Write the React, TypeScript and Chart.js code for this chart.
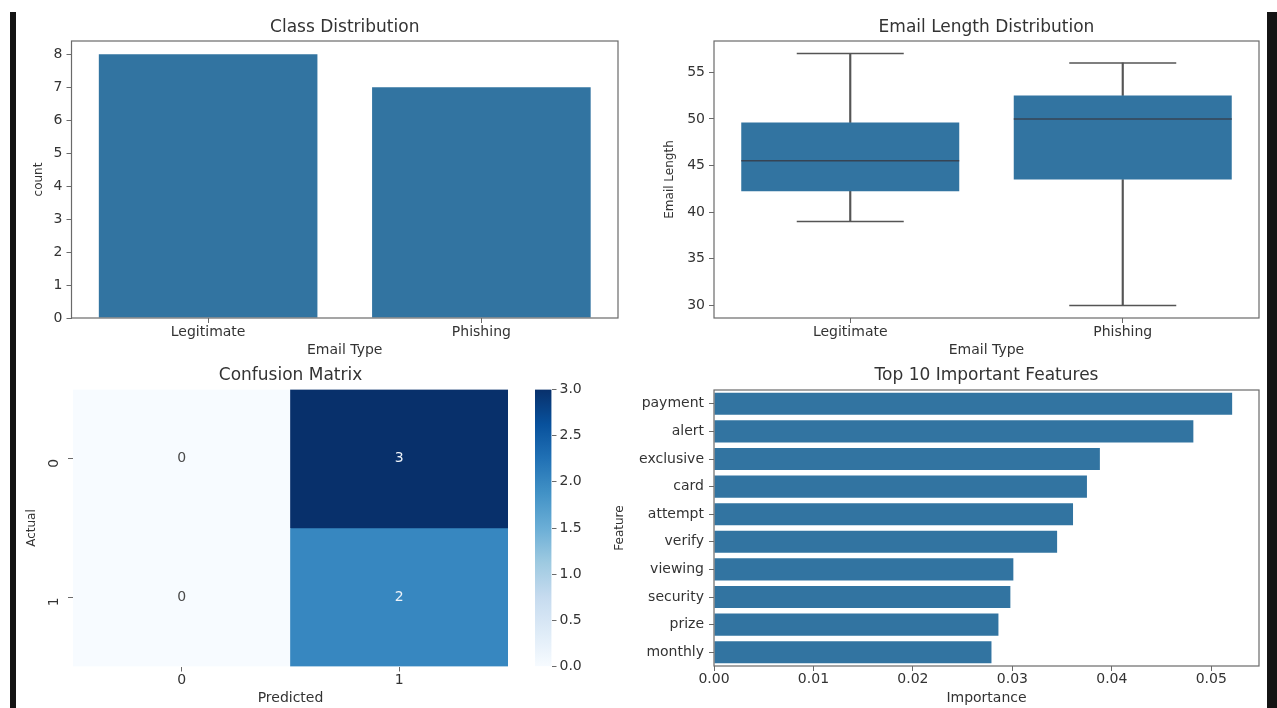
import React, { useEffect, useRef } from 'react';
import { Chart, registerables } from 'chart.js';

Chart.register(...registerables);

// ---------------- data ----------------
const classCategories = ['Legitimate', 'Phishing'];
const classCounts = [8, 7];
const countTicks = [0, 1, 2, 3, 4, 5, 6, 7, 8];

const lengthCategories = ['Legitimate', 'Phishing'];
const lengthMin = [39, 30];
const lengthQ1 = [42.25, 43.5];
const lengthMedian = [45.5, 50];
const lengthQ3 = [49.6, 52.5];
const lengthMax = [57, 56];
const lengthTicks = [30, 35, 40, 45, 50, 55];

const predictedLabels = ['0', '1'];
const actualLabels = ['0', '1'];
const confusionRow0 = [0, 3];
const confusionRow1 = [0, 2];
const colorbarTicks = [0, 0.5, 1, 1.5, 2, 2.5, 3];

const featureNames = ['payment', 'alert', 'exclusive', 'card', 'attempt', 'verify', 'viewing', 'security', 'prize', 'monthly'];
const featureImportance = [0.0521, 0.0482, 0.0388, 0.0375, 0.0361, 0.0345, 0.0301, 0.0298, 0.0286, 0.0279];
const importanceTicks = [0, 0.01, 0.02, 0.03, 0.04, 0.05];

// ---------------- styles ----------------
const FONT_FAMILY = '"DejaVu Sans", "Liberation Sans", sans-serif';
const TEXT_COLOR = '#333333';
const SPINE_COLOR = '#6a6a6a';
const BAR_COLOR = '#3274a1';
const WHISKER_COLOR = '#555555';
const MEDIAN_COLOR = 'rgba(55,60,70,0.85)';

const tickFont = { family: FONT_FAMILY, size: 14 };
const labelFont = { family: FONT_FAMILY, size: 14 };
const yLabelFont = { family: FONT_FAMILY, size: 12 };
const TITLE_SIZE = 17;

const BLUES = ['#f7fbff', '#deebf7', '#c6dbef', '#9ecae1', '#6baed6', '#4292c6', '#2171b5', '#08519c', '#08306b'];

function hexToRgb(h: string) {
  const n = parseInt(h.slice(1), 16);
  return [(n >> 16) & 255, (n >> 8) & 255, n & 255];
}
function bluesColor(t: number) {
  const tt = Math.max(0, Math.min(1, t));
  const pos = tt * (BLUES.length - 1);
  const i = Math.min(Math.floor(pos), BLUES.length - 2);
  const f = pos - i;
  const a = hexToRgb(BLUES[i]);
  const b = hexToRgb(BLUES[i + 1]);
  const c = a.map((v, k) => Math.round(v + (b[k] - v) * f));
  return `rgb(${c[0]},${c[1]},${c[2]})`;
}

function tickGrid() {
  return {
    display: true,
    drawOnChartArea: false,
    drawTicks: true,
    tickLength: 5,
    lineWidth: 1,
    color: SPINE_COLOR,
    offset: false,
  };
}

function makeFrame(id: string) {
  return {
    id,
    afterDatasetsDraw(chart: any) {
      const { ctx, chartArea } = chart;
      ctx.save();
      ctx.strokeStyle = SPINE_COLOR;
      ctx.lineWidth = 1.2;
      ctx.strokeRect(chartArea.left, chartArea.top, chartArea.right - chartArea.left, chartArea.bottom - chartArea.top);
      ctx.restore();
    },
  };
}

// Axes title centred over the plotting area (like matplotlib's ax.set_title)
function makeAxTitle(id: string, text: string, gap: number) {
  return {
    id,
    afterDraw(chart: any) {
      const { ctx, chartArea } = chart;
      ctx.save();
      ctx.font = `${TITLE_SIZE}px ${FONT_FAMILY}`;
      ctx.fillStyle = TEXT_COLOR;
      ctx.textAlign = 'center';
      ctx.textBaseline = 'middle';
      ctx.fillText(text, (chartArea.left + chartArea.right) / 2, chartArea.top - gap);
      ctx.restore();
    },
  };
}

const baseOptions = {
  responsive: false,
  maintainAspectRatio: false,
  animation: false as const,
  events: [] as any[],
};

const noPlugins = {
  legend: { display: false },
  tooltip: { enabled: false },
  title: { display: false },
};

export default function App() {
  const c1 = useRef<HTMLCanvasElement>(null);
  const c2 = useRef<HTMLCanvasElement>(null);
  const c3 = useRef<HTMLCanvasElement>(null);
  const c3b = useRef<HTMLCanvasElement>(null);
  const c4 = useRef<HTMLCanvasElement>(null);

  useEffect(() => {
    const charts: any[] = [];

    // ---------- Class Distribution ----------
    charts.push(
      new Chart(c1.current as any, {
        type: 'bar',
        data: {
          labels: classCategories,
          datasets: [
            {
              data: classCounts,
              backgroundColor: BAR_COLOR,
              barPercentage: 0.8,
              categoryPercentage: 1,
              borderWidth: 0,
            },
          ],
        },
        options: {
          ...baseOptions,
          layout: { autoPadding: false, padding: { left: 0, right: 56, top: 29, bottom: 0 } },
          plugins: noPlugins,
          scales: {
            x: {
              grid: tickGrid(),
              border: { display: false },
              ticks: { font: tickFont, color: TEXT_COLOR, padding: 1 },
              title: { display: true, text: 'Email Type', font: labelFont, color: TEXT_COLOR, padding: { top: 0, bottom: 3.6 } },
              afterFit: (s: any) => { s.height = 44; },
            },
            y: {
              min: 0,
              max: 8.4,
              afterBuildTicks: (s: any) => { s.ticks = countTicks.map((v) => ({ value: v })); },
              grid: tickGrid(),
              border: { display: false },
              ticks: { font: tickFont, color: TEXT_COLOR, padding: 4, callback: (v: any) => String(v) },
              title: { display: true, text: 'count', font: yLabelFont, color: TEXT_COLOR, padding: { top: 15.8, bottom: 0 } },
              afterFit: (s: any) => { s.width = 55.5; },
            },
          },
        } as any,
        plugins: [makeFrame('frame1'), makeAxTitle('title1', 'Class Distribution', 13.3)],
      })
    );

    // ---------- Email Length Distribution (box plot) ----------
    charts.push(
      new Chart(c2.current as any, {
        type: 'bar',
        data: {
          labels: lengthCategories,
          datasets: [
            {
              type: 'line',
              data: lengthMedian,
              showLine: false,
              pointStyle: 'line',
              pointRadius: 109,
              pointBorderWidth: 1.5,
              pointBorderColor: MEDIAN_COLOR,
              borderColor: MEDIAN_COLOR,
              clip: false,
            },
            {
              type: 'line',
              data: lengthMin,
              showLine: false,
              pointStyle: 'line',
              pointRadius: 53.5,
              pointBorderWidth: 1.5,
              pointBorderColor: WHISKER_COLOR,
              borderColor: WHISKER_COLOR,
              clip: false,
            },
            {
              type: 'line',
              data: lengthMax,
              showLine: false,
              pointStyle: 'line',
              pointRadius: 53.5,
              pointBorderWidth: 1.5,
              pointBorderColor: WHISKER_COLOR,
              borderColor: WHISKER_COLOR,
              clip: false,
            },
            {
              type: 'bar',
              data: lengthQ1.map((q, i) => [q, lengthQ3[i]]),
              backgroundColor: BAR_COLOR,
              barPercentage: 0.8,
              categoryPercentage: 1,
              grouped: false,
              borderWidth: 0,
            },
            {
              type: 'bar',
              data: lengthMin.map((m, i) => [m, lengthQ1[i]]),
              backgroundColor: WHISKER_COLOR,
              barThickness: 1.5,
              grouped: false,
              borderWidth: 0,
            },
            {
              type: 'bar',
              data: lengthQ3.map((q, i) => [q, lengthMax[i]]),
              backgroundColor: WHISKER_COLOR,
              barThickness: 1.5,
              grouped: false,
              borderWidth: 0,
            },
          ] as any,
        },
        options: {
          ...baseOptions,
          layout: { autoPadding: false, padding: { left: 0, right: 74, top: 29, bottom: 0 } },
          plugins: noPlugins,
          scales: {
            x: {
              grid: tickGrid(),
              border: { display: false },
              ticks: { font: tickFont, color: TEXT_COLOR, padding: 1 },
              title: { display: true, text: 'Email Type', font: labelFont, color: TEXT_COLOR, padding: { top: 0, bottom: 3.6 } },
              afterFit: (s: any) => { s.height = 44; },
            },
            y: {
              min: 28.65,
              max: 58.35,
              afterBuildTicks: (s: any) => { s.ticks = lengthTicks.map((v) => ({ value: v })); },
              grid: tickGrid(),
              border: { display: false },
              ticks: { font: tickFont, color: TEXT_COLOR, padding: 4, callback: (v: any) => String(v) },
              title: { display: true, text: 'Email Length', font: yLabelFont, color: TEXT_COLOR, padding: { top: 22.8, bottom: 0 } },
              afterFit: (s: any) => { s.width = 74; },
            },
          },
        } as any,
        plugins: [makeFrame('frame2'), makeAxTitle('title2', 'Email Length Distribution', 13.3)],
      })
    );

    // ---------- Confusion Matrix (heatmap) ----------
    const confusionMatrix = [confusionRow0, confusionRow1];
    const allVals = confusionMatrix.flat();
    const cbMin = Math.min(...allVals);
    const cbMax = Math.max(...allVals);

    const annotPlugin = {
      id: 'annot',
      afterDatasetsDraw(chart: any) {
        const { ctx } = chart;
        const xs = chart.scales.x;
        const ys = chart.scales.y;
        ctx.save();
        ctx.font = `14px ${FONT_FAMILY}`;
        ctx.textAlign = 'center';
        ctx.textBaseline = 'middle';
        confusionMatrix.forEach((row, r) => {
          row.forEach((v, c) => {
            const t = (v - cbMin) / (cbMax - cbMin);
            ctx.fillStyle = t > 0.5 ? '#eef3f9' : '#4a4a4a';
            ctx.fillText(String(v), xs.getPixelForValue(c), ys.getPixelForValue(r + 0.5));
          });
        });
        ctx.restore();
      },
    };

    charts.push(
      new Chart(c3.current as any, {
        type: 'bar',
        data: {
          labels: predictedLabels,
          datasets: actualLabels.map((lab, r) => ({
            label: lab,
            data: predictedLabels.map(() => [r, r + 1]),
            backgroundColor: confusionMatrix[r].map((v) => bluesColor((v - cbMin) / (cbMax - cbMin))),
            barPercentage: 1,
            categoryPercentage: 1,
            grouped: false,
            borderWidth: 0,
          })) as any,
        },
        options: {
          ...baseOptions,
          layout: { autoPadding: false, padding: { left: 0, right: 57, top: 27.5, bottom: 0 } },
          plugins: noPlugins,
          scales: {
            x: {
              grid: tickGrid(),
              border: { display: false },
              ticks: { font: tickFont, color: TEXT_COLOR, padding: 0 },
              title: { display: true, text: 'Predicted', font: labelFont, color: TEXT_COLOR, padding: { top: 0, bottom: 1.6 } },
              afterFit: (s: any) => { s.height = 41.5; },
            },
            y: {
              min: 0,
              max: actualLabels.length,
              reverse: true,
              afterBuildTicks: (s: any) => { s.ticks = actualLabels.map((_, i) => ({ value: i + 0.5 })); },
              grid: tickGrid(),
              border: { display: false },
              ticks: {
                font: tickFont,
                color: TEXT_COLOR,
                padding: 14,
                minRotation: 90,
                maxRotation: 90,
                callback: (_v: any, i: number) => actualLabels[i],
              },
              title: { display: true, text: 'Actual', font: yLabelFont, color: TEXT_COLOR, padding: { top: 8.8, bottom: 0 } },
              afterFit: (s: any) => { s.width = 57; },
            },
          },
        } as any,
        plugins: [annotPlugin, makeAxTitle('title3', 'Confusion Matrix', 13.5)],
      })
    );

    // ---------- Colorbar ----------
    charts.push(
      new Chart(c3b.current as any, {
        type: 'bar',
        data: {
          labels: [''],
          datasets: [
            {
              data: [[cbMin, cbMax]],
              backgroundColor: (context: any) => {
                const chart = context.chart;
                const ys = chart.scales.y;
                if (!chart.chartArea || !ys) return BLUES[4];
                const g = chart.ctx.createLinearGradient(0, ys.getPixelForValue(cbMin), 0, ys.getPixelForValue(cbMax));
                BLUES.forEach((c, i) => g.addColorStop(i / (BLUES.length - 1), c));
                return g;
              },
              barPercentage: 1,
              categoryPercentage: 1,
              borderWidth: 0,
            },
          ] as any,
        },
        options: {
          ...baseOptions,
          layout: { autoPadding: false, padding: { left: 15, right: 0, top: 27.5, bottom: 41.5 } },
          plugins: noPlugins,
          scales: {
            x: { display: false },
            y: {
              position: 'right',
              min: cbMin,
              max: cbMax,
              afterBuildTicks: (s: any) => { s.ticks = colorbarTicks.map((v) => ({ value: v })); },
              grid: tickGrid(),
              border: { display: false },
              ticks: { font: tickFont, color: TEXT_COLOR, padding: 3, callback: (v: any) => Number(v).toFixed(1) },
              afterFit: (s: any) => { s.width = 48.5; },
            },
          },
        } as any,
      })
    );

    // ---------- Top 10 Important Features ----------
    charts.push(
      new Chart(c4.current as any, {
        type: 'bar',
        data: {
          labels: featureNames,
          datasets: [
            {
              data: featureImportance,
              backgroundColor: BAR_COLOR,
              barPercentage: 0.8,
              categoryPercentage: 1,
              borderWidth: 0,
            },
          ],
        },
        options: {
          ...baseOptions,
          indexAxis: 'y',
          layout: { autoPadding: false, padding: { left: 0, right: 114, top: 28, bottom: 0 } },
          plugins: noPlugins,
          scales: {
            x: {
              type: 'linear',
              min: 0,
              max: 0.0548,
              afterBuildTicks: (s: any) => { s.ticks = importanceTicks.map((v) => ({ value: v })); },
              grid: tickGrid(),
              border: { display: false },
              ticks: { font: tickFont, color: TEXT_COLOR, padding: 0, callback: (v: any) => Number(v).toFixed(2) },
              title: { display: true, text: 'Importance', font: labelFont, color: TEXT_COLOR, padding: { top: 0, bottom: 1.6 } },
              afterFit: (s: any) => { s.height = 42; },
            },
            y: {
              grid: tickGrid(),
              border: { display: false },
              ticks: { font: tickFont, color: TEXT_COLOR, padding: 5 },
              title: { display: true, text: 'Feature', font: yLabelFont, color: TEXT_COLOR, padding: { top: 12.8, bottom: 0 } },
              afterFit: (s: any) => { s.width = 114; },
            },
          },
        } as any,
        plugins: [makeFrame('frame4'), makeAxTitle('title4', 'Top 10 Important Features', 14)],
      })
    );

    return () => {
      charts.forEach((c) => c.destroy());
    };
  }, []);

  const canvasStyle = (left: number, top: number, w: number, h: number): React.CSSProperties => ({
    position: 'absolute',
    left,
    top,
    width: w,
    height: h,
  });

  return (
    <div
      style={{
        position: 'fixed',
        left: 0,
        top: 0,
        width: 1277,
        height: 708,
        overflow: 'hidden',
        background: '#ffffff',
        fontFamily: FONT_FAMILY,
      }}
    >
      <canvas ref={c1} width={658} height={350} style={canvasStyle(16, 12, 658, 350)} />
      <canvas ref={c2} width={693} height={350} style={canvasStyle(640, 12, 693, 350)} />
      <canvas ref={c3} width={549} height={346} style={canvasStyle(16, 362, 549, 346)} />
      <canvas ref={c3b} width={80} height={346} style={canvasStyle(520, 362, 80, 346)} />
      <canvas ref={c4} width={773} height={346} style={canvasStyle(600, 362, 773, 346)} />
      <div style={{ position: 'absolute', left: 10, top: 12, width: 6, height: 696, background: '#141414' }} />
      <div style={{ position: 'absolute', left: 1267, top: 12, width: 10, height: 696, background: '#141414' }} />
    </div>
  );
}
